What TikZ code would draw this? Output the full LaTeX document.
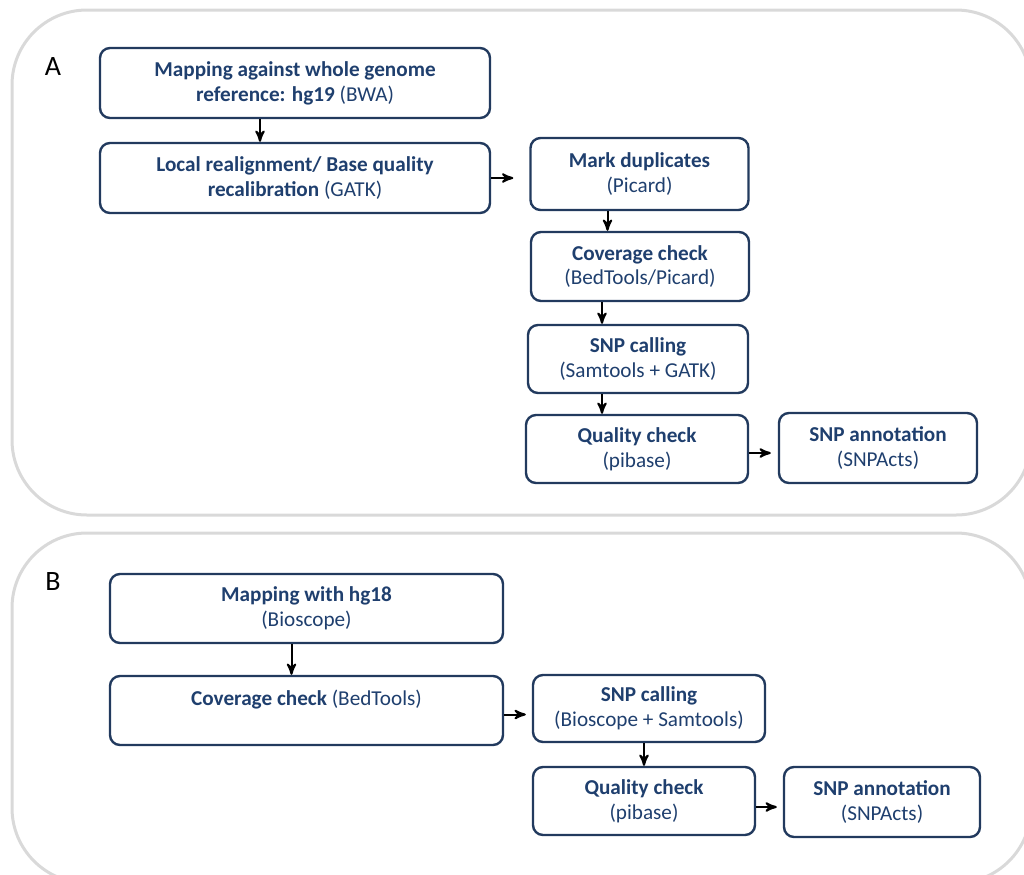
\documentclass[tikz,border=0pt]{standalone}
\usepackage{fontspec}
\setmainfont{Carlito}
\usepackage{xcolor}
\usepackage{tikz}
\usetikzlibrary{arrows}
\definecolor{stepnavy}{HTML}{223A5E}
\definecolor{steptext}{HTML}{1F3F6E}
\definecolor{panelgray}{HTML}{D9D9D9}
\tikzset{
    stepbox/.style = {align=center, inner sep=0pt, draw=stepnavy, line width=1.2pt, rounded corners=5pt,
                      text=steptext, font=\fontsize{10.6}{12.4}\selectfont},
    panel/.style = {draw=panelgray, line width=1.5pt, rounded corners=37.5pt},
    tag/.style = {inner sep=0pt, font=\fontsize{14}{16}\selectfont}
}

\begin{document}
\begin{tikzpicture}[->,>=stealth',x=0.5pt,y=-0.5pt,line width=1pt]
    \useasboundingbox (0,0) rectangle (1024,874);
    \clip (0,0) rectangle (1024,874);
    % panels
    \draw [panel,-] (12,10) rectangle (1031,515);
    \draw [panel,-] (12,533) rectangle (1031,883);
    \node [tag] (tagA) at (53,67) {A};
    \node [tag] (tagB) at (53,582) {B};
    % A: hg19 pipeline
    \node [stepbox, minimum width=195pt, minimum height=35pt] (A1) at (295,83)
        {\textbf{Mapping against whole genome}\\ \textbf{reference: hg19} (BWA)};
    \node [stepbox, minimum width=195pt, minimum height=35pt] (A2) at (295,178)
        {\textbf{Local realignment/ Base quality}\\ \textbf{recalibration} (GATK)};
    \node [stepbox, minimum width=109pt, minimum height=36pt] (A3) at (639.5,174)
        {\textbf{Mark duplicates}\\ (Picard)};
    \node [stepbox, minimum width=109pt, minimum height=34.5pt] (A4) at (640,266.5)
        {\textbf{Coverage check}\\ (BedTools/Picard)};
    \node [stepbox, minimum width=110pt, minimum height=34pt] (A5) at (638,359)
        {\textbf{SNP calling}\\ (Samtools + GATK)};
    \node [stepbox, minimum width=111pt, minimum height=34pt] (A6) at (637,449)
        {\textbf{Quality check}\\ (pibase)};
    \node [stepbox, minimum width=99pt, minimum height=35pt] (A7) at (878,448)
        {\textbf{SNP annotation}\\ (SNPActs)};
    \draw ([xshift=-17.5pt]A1.south) -- ([xshift=-17.5pt]A2.north);
    \draw (A2.east) -- ([xshift=-8pt]A2.east -| A3.west);
    \draw ([xshift=-16pt]A3.south) -- ([xshift=-16pt]A3.south |- A4.north);
    \draw ([xshift=-19pt]A4.south) -- ([xshift=-19pt]A4.south |- A5.north);
    \draw ([xshift=-18pt]A5.south) -- ([xshift=-18pt]A5.south |- A6.north);
    \draw ([yshift=-2pt]A6.east) -- ([yshift=-2pt,xshift=-3.5pt]A6.east -| A7.west);
    % B: hg18 pipeline
    \node [stepbox, minimum width=196.5pt, minimum height=34.5pt] (B1) at (306.5,608.5)
        {\textbf{Mapping with hg18}\\ (Bioscope)};
    \node [stepbox, minimum width=196.5pt, minimum height=34.5pt] (B2) at (306.5,710.5)
        {\textbf{Coverage check} (BedTools)\\ ~};
    \node [stepbox, minimum width=116pt, minimum height=33.5pt] (B3) at (649,708.5)
        {\textbf{SNP calling}\\ (Bioscope + Samtools)};
    \node [stepbox, minimum width=111pt, minimum height=34pt] (B4) at (644,801)
        {\textbf{Quality check}\\ (pibase)};
    \node [stepbox, minimum width=98pt, minimum height=35pt] (B5) at (882,802)
        {\textbf{SNP annotation}\\ (SNPActs)};
    \draw ([xshift=-7.5pt]B1.south) -- ([xshift=-7.5pt]B2.north);
    \draw ([yshift=-2pt]B2.east) -- ([yshift=-2pt,xshift=-3pt]B2.east -| B3.west);
    \draw ([xshift=-2.5pt]B3.south) -- ([xshift=-2.5pt]B3.south |- B4.north);
    \draw ([yshift=-3pt]B4.east) -- ([yshift=-3pt,xshift=-3pt]B4.east -| B5.west);
\end{tikzpicture}
\end{document}
